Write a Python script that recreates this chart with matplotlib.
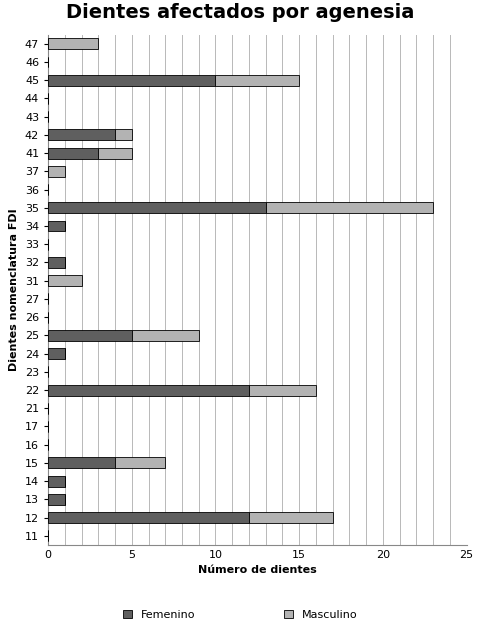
import matplotlib
matplotlib.use("Agg")
import matplotlib.pyplot as plt
import numpy as np

teeth = ["11","12","13","14","15","16","17","21","22","23","24","25","26","27",
         "31","32","33","34","35","36","37","41","42","43","44","45","46","47"]
fem = [0,12,1,1,4,0,0,0,12,0,1,5,0,0,0,1,0,1,13,0,0,3,4,0,0,10,0,0]
masc = [0,5,0,0,3,0,0,0,4,0,0,4,0,0,2,0,0,0,10,0,1,2,1,0,0,5,0,3]

fig = plt.figure(figsize=(4.81,6.30), dpi=100)
ax = fig.add_axes([0.1, 0.135, 0.87, 0.81])
y = np.arange(len(teeth))
ax.barh(y, fem, height=0.6, color="#5f5f5f", edgecolor="black", linewidth=0.6, label="Femenino", zorder=3)
ax.barh(y, masc, left=fem, height=0.6, color="#b3b3b3", edgecolor="black", linewidth=0.6, label="Masculino", zorder=3)
ax.set_xlim(0,25)
ax.set_ylim(-0.5, len(teeth)-0.5)
ax.set_yticks(y)
ax.set_yticklabels(teeth, fontsize=8)
ax.set_xticks(range(0,26,5))
ax.set_xticks(range(0,26), minor=True)
ax.tick_params(axis='x', labelsize=8, which='both', length=0)
ax.tick_params(axis='y', length=3)
ax.grid(axis='x', which='both', color='#b8b8b8', linewidth=0.7, zorder=0)
for s in ["top","right"]:
    ax.spines[s].set_visible(False)
ax.spines["left"].set_color("#888888")
ax.spines["bottom"].set_color("#888888")
ax.set_xlabel("Número de dientes", fontsize=8, fontweight='bold')
ax.set_ylabel("Dientes nomenclatura FDI", fontsize=8, fontweight='bold')
fig.suptitle("Dientes afectados por agenesia", fontsize=14, fontweight='bold', y=0.995)
fig.legend(loc="lower center", ncol=2, frameon=False, fontsize=8, bbox_to_anchor=(0.5,0.0),
           handlelength=0.8, handleheight=0.8, columnspacing=8)
fig.savefig("out.png", dpi=100)
